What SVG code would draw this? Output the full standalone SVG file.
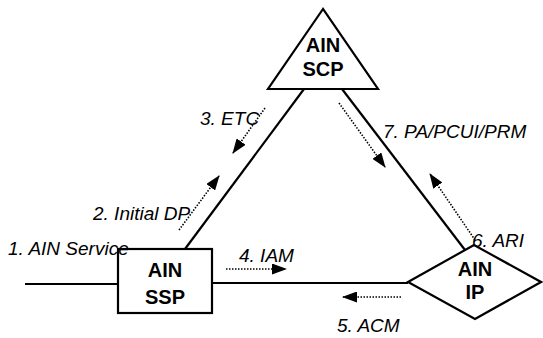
<svg xmlns="http://www.w3.org/2000/svg" width="543" height="338" viewBox="0 0 543 338">
<style>
.node{fill:#fff;stroke:#000;stroke-width:2.2}
.nt{font-family:"Liberation Sans",Arial,sans-serif;font-weight:bold;font-size:20px;text-anchor:middle;fill:#000}
.lbl{font-family:"Liberation Sans",Arial,sans-serif;font-style:italic;font-size:19px;fill:#000}
.link{stroke:#000;stroke-width:2.2;fill:none}
.msg{stroke:#000;stroke-width:1.6;stroke-dasharray:1.5 1.5;fill:none;marker-end:url(#ah)}
</style>
<defs>
<marker id="ah" markerWidth="15" markerHeight="11" refX="14" refY="5.5" orient="auto" markerUnits="userSpaceOnUse">
<path d="M0,0 L15,5.5 L0,11 Z" fill="#000"/>
</marker>
</defs>
<rect width="543" height="338" fill="#fff"/>
<g id="connectors">
<line class="link" x1="304" y1="89" x2="185" y2="249"/>
<line class="link" x1="342" y1="89" x2="465" y2="250"/>
<line class="link" x1="25" y1="284" x2="118" y2="284"/>
<line class="link" x1="212" y1="283" x2="408" y2="283"/>
<line class="msg" x1="265" y1="108" x2="233" y2="153"/>
<line class="msg" x1="179" y1="230" x2="219" y2="176"/>
<line class="msg" x1="339" y1="103" x2="385" y2="167"/>
<line class="msg" x1="475" y1="240" x2="430" y2="174"/>
<line class="msg" x1="226" y1="269" x2="286" y2="269"/>
<line class="msg" x1="401" y1="297" x2="343" y2="297"/>
</g>
<g id="scp">
<polygon class="node" points="323,9 268,89 378,89"/>
<text class="nt" x="323" y="52">AIN</text>
<text class="nt" x="323" y="76">SCP</text>
</g>
<g id="ssp">
<rect class="node" x="118" y="249" width="94" height="64"/>
<text class="nt" x="165" y="277">AIN</text>
<text class="nt" x="165" y="304">SSP</text>
</g>
<g id="ip">
<polygon class="node" points="408,282 474,245 541,282 475,319"/>
<text class="nt" x="475" y="276">AIN</text>
<text class="nt" x="475" y="299">IP</text>
</g>
<g id="labels">
<text class="lbl" x="8" y="255">1. AIN Service</text>
<text class="lbl" x="93" y="220">2. Initial DP</text>
<text class="lbl" x="200" y="125">3. ETC</text>
<text class="lbl" x="239" y="262">4. IAM</text>
<text class="lbl" x="337" y="332">5. ACM</text>
<text class="lbl" x="472" y="247">6. ARI</text>
<text class="lbl" x="383" y="138">7. PA/PCUI/PRM</text>
</g>
</svg>
